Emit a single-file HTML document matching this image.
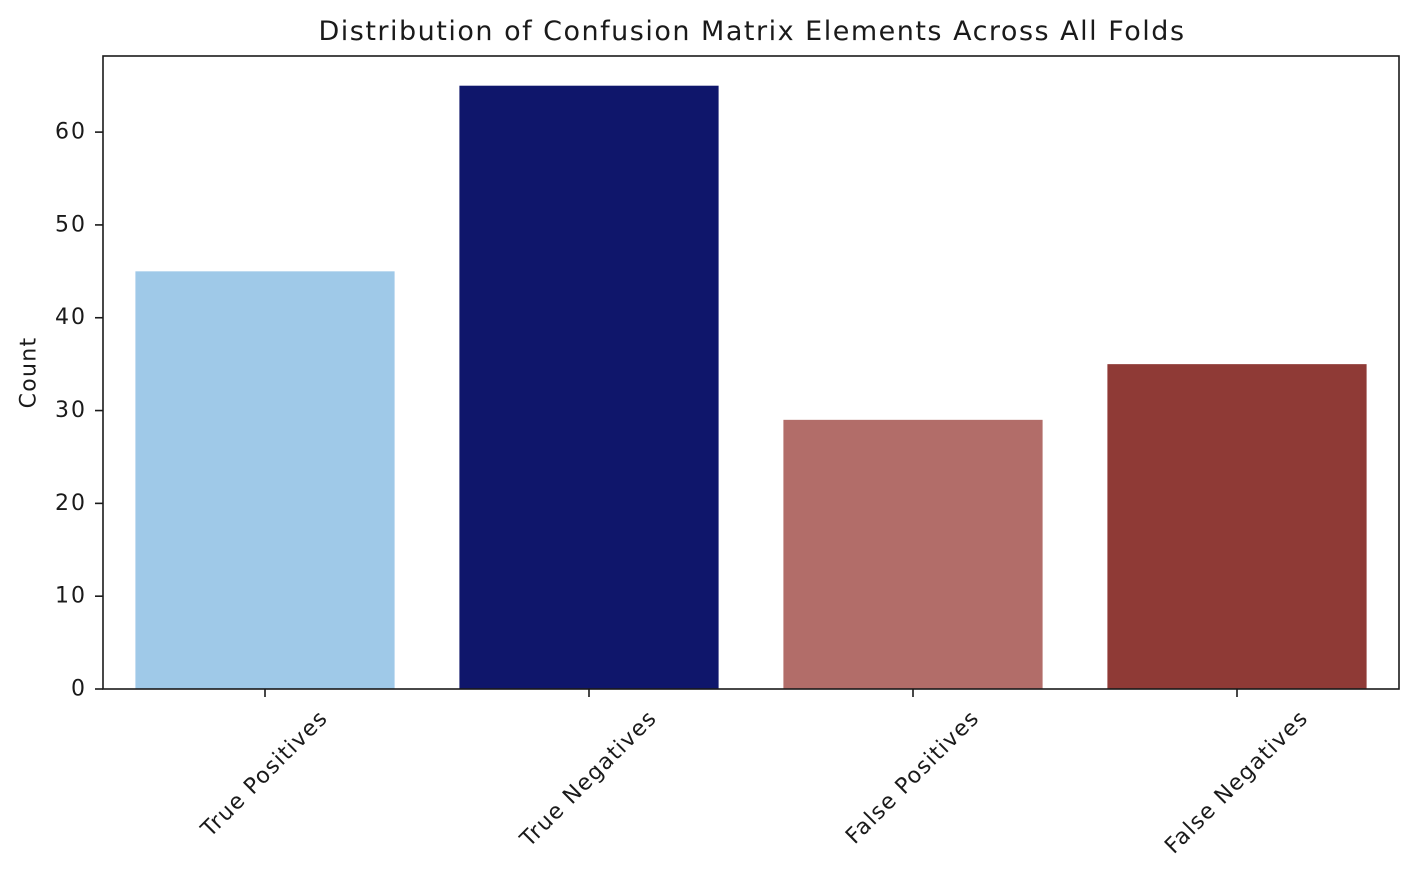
<!DOCTYPE html>
<html><head><meta charset="utf-8"><style>
body{margin:0;background:#fff}
svg{display:block;font-family:"DejaVu Sans","Liberation Sans",sans-serif;fill:#1a1a1a}
</style></head><body>
<svg id="c" width="1414" height="878"></svg>
<script>
const categories=["True Positives","True Negatives","False Positives","False Negatives"];
const counts=[45,65,29,35];
const colors=["#9fc9e8","#0f166b","#b26d69","#8f3a36"];
const yTicks=[0,10,20,30,40,50,60];
const NS="http://www.w3.org/2000/svg";
const svg=document.getElementById('c');
const L=103,R=1399,T=56,B=689,yMax=68.2;
const x=i=>L+(i+0.5)*(R-L)/categories.length;
const y=v=>B-v*(B-T)/yMax;
const bw=0.8*(R-L)/categories.length;
function mk(tag,a,p){const e=document.createElementNS(NS,tag);for(const k in a)e.setAttribute(k,a[k]);(p||svg).appendChild(e);return e;}
categories.forEach((c,i)=>{
 const r=mk('rect',{x:x(i)-bw/2,y:y(counts[i]),width:bw,height:y(0)-y(counts[i]),fill:colors[i]});
 
 
});
mk('rect',{x:L,y:T,width:R-L,height:B-T,fill:'none',stroke:'#1a1a1a','stroke-width':1.6});
yTicks.forEach(v=>{
 mk('line',{x1:L-8,x2:L,y1:y(v),y2:y(v),stroke:'#1a1a1a','stroke-width':1.6});
 const t=mk('text',{x:L-16,y:y(v),'text-anchor':'end','dominant-baseline':'central','font-size':22,'letter-spacing':2});
 t.textContent=v;
 
 
});
categories.forEach((c,i)=>{
 mk('line',{x1:x(i),x2:x(i),y1:B,y2:B+8,stroke:'#1a1a1a','stroke-width':1.6});
 const t=mk('text',{'text-anchor':'middle','dominant-baseline':'central','font-size':22,'letter-spacing':1.3});
 t.textContent=c;
 
 
 const w=t.getComputedTextLength(),h=24;
 const cy=706+(w+h)*0.7071/2;
 t.setAttribute('x',x(i));t.setAttribute('y',cy);
 t.setAttribute('transform','rotate(-45 '+x(i)+' '+cy+')');
});
const yl=mk('text',{x:29,y:(T+B)/2,'text-anchor':'middle','dominant-baseline':'central','font-size':22,'letter-spacing':1.3,transform:'rotate(-90 29 '+(T+B)/2+')'});
yl.textContent='Count';


const ti=mk('text',{x:(L+R)/2+1,y:40,'text-anchor':'middle','font-size':27,'letter-spacing':1.5});
ti.textContent='Distribution of Confusion Matrix Elements Across All Folds';


</script>
</body></html>
